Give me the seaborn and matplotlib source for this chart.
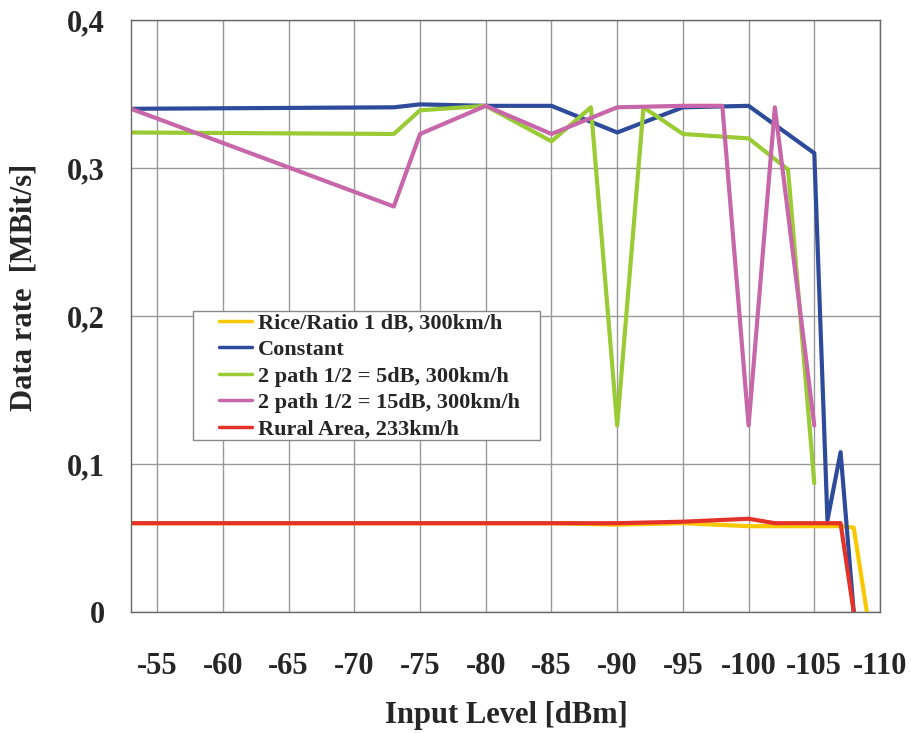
import matplotlib
matplotlib.use("Agg")
import matplotlib.pyplot as plt
import seaborn as sns
import pandas as pd
import numpy as np
from matplotlib.ticker import FuncFormatter, MultipleLocator
from matplotlib.patches import Rectangle

sns.set_theme(style="white")
plt.rcParams['font.family'] = ['Liberation Serif', 'DejaVu Serif']
plt.rcParams['font.weight'] = 'bold'

series_names = ["Rice/Ratio 1 dB, 300km/h", "Constant", "2 path 1/2 = 5dB, 300km/h",
                "2 path 1/2 = 15dB, 300km/h", "Rural Area, 233km/h"]
colors = ["#F9C800", "#2E4B9B", "#9ACB35", "#C766A8", "#E53228"]

rice_x = [-53, -85, -90, -95, -100, -107, -108, -109]
rice_y = [0.060, 0.060, 0.059, 0.060, 0.058, 0.058, 0.057, 0.0]

const_x = [-53, -73, -75, -80, -85, -90, -95, -100, -105, -106, -107, -108]
const_y = [0.340, 0.341, 0.343, 0.342, 0.342, 0.324, 0.341, 0.342, 0.310, 0.062, 0.108, 0.0]

p5_x = [-53, -73, -75, -80, -85, -88, -90, -92, -95, -100, -103, -105]
p5_y = [0.324, 0.323, 0.339, 0.342, 0.318, 0.341, 0.126, 0.341, 0.323, 0.320, 0.299, 0.087]

p15_x = [-53, -73, -75, -80, -85, -90, -95, -98, -100, -102, -105]
p15_y = [0.340, 0.274, 0.323, 0.342, 0.323, 0.341, 0.342, 0.342, 0.126, 0.341, 0.126]

rural_x = [-53, -90, -95, -100, -102, -107, -108]
rural_y = [0.060, 0.060, 0.061, 0.063, 0.060, 0.060, 0.0]

xs = [rice_x, const_x, p5_x, p15_x, rural_x]
ys = [rice_y, const_y, p5_y, p15_y, rural_y]

frames = []
for name, x, y in zip(series_names, xs, ys):
    frames.append(pd.DataFrame({"level": x, "rate": y, "series": name}))
df = pd.concat(frames, ignore_index=True)

W, H = 912, 733
AX_L, AX_R, AX_T, AX_B = 131, 880, 20, 612
fig = plt.figure(figsize=(W/100, H/100), dpi=100)
ax = fig.add_axes([AX_L/W, 1 - AX_B/H, (AX_R-AX_L)/W, (AX_B-AX_T)/H])

def axfx(px):
    return (px - AX_L) / (AX_R - AX_L)

def axfy(py):
    return (AX_B - py) / (AX_B - AX_T)

sns.lineplot(data=df, x="level", y="rate", hue="series", hue_order=series_names,
             palette=dict(zip(series_names, colors)), sort=False, estimator=None,
             linewidth=3, ax=ax)

ax.set_xlim(-53, -110)
ax.set_ylim(0, 0.4)
ax.xaxis.set_major_locator(MultipleLocator(5))
ax.yaxis.set_major_locator(MultipleLocator(0.1))
ax.xaxis.set_major_formatter(FuncFormatter(lambda v, p: f"{int(round(v))}"))
ax.yaxis.set_major_formatter(FuncFormatter(lambda v, p: "0" if abs(v) < 1e-9 else f"{v:.1f}".replace(".", ",")))
ax.grid(True, color="#999999", linewidth=1.0)
ax.set_axisbelow(True)
for s in ax.spines.values():
    s.set_color("#666666")
    s.set_linewidth(1.0)

ax.tick_params(axis="x", direction="out", length=10, width=1, color="#999999",
               labelsize=22, pad=19)
ax.tick_params(axis="y", direction="in", length=10, width=1, color="#666666",
               labelsize=22, pad=19)
for lab in ax.get_xticklabels() + ax.get_yticklabels():
    lab.set_fontweight("bold")

ax.set_xlabel("Input Level [dBm]", fontsize=22, fontweight="bold")
ax.set_ylabel("Data rate  [MBit/s]", fontsize=22, fontweight="bold")
ax.xaxis.set_label_coords(axfx(506), axfy(701))
ax.yaxis.set_label_coords(axfx(38), axfy(287))

# legend frame drawn as a rectangle, legend itself frameless
ax.add_patch(Rectangle((axfx(193), axfy(440)), axfx(540) - axfx(193), axfy(311) - axfy(440),
                       transform=ax.transAxes, facecolor="white", edgecolor="#888888",
                       linewidth=1.0, zorder=5))
leg = ax.legend(loc="upper left", bbox_to_anchor=(axfx(219), axfy(313)), frameon=False,
                prop={"size": 16, "weight": "bold"}, handlelength=1.5,
                handletextpad=0.27, borderpad=0, labelspacing=0.27,
                borderaxespad=0)
leg.set_zorder(6)
for h in leg.get_lines():
    h.set_linewidth(2.5)

fig.savefig("out.png", dpi=100)
